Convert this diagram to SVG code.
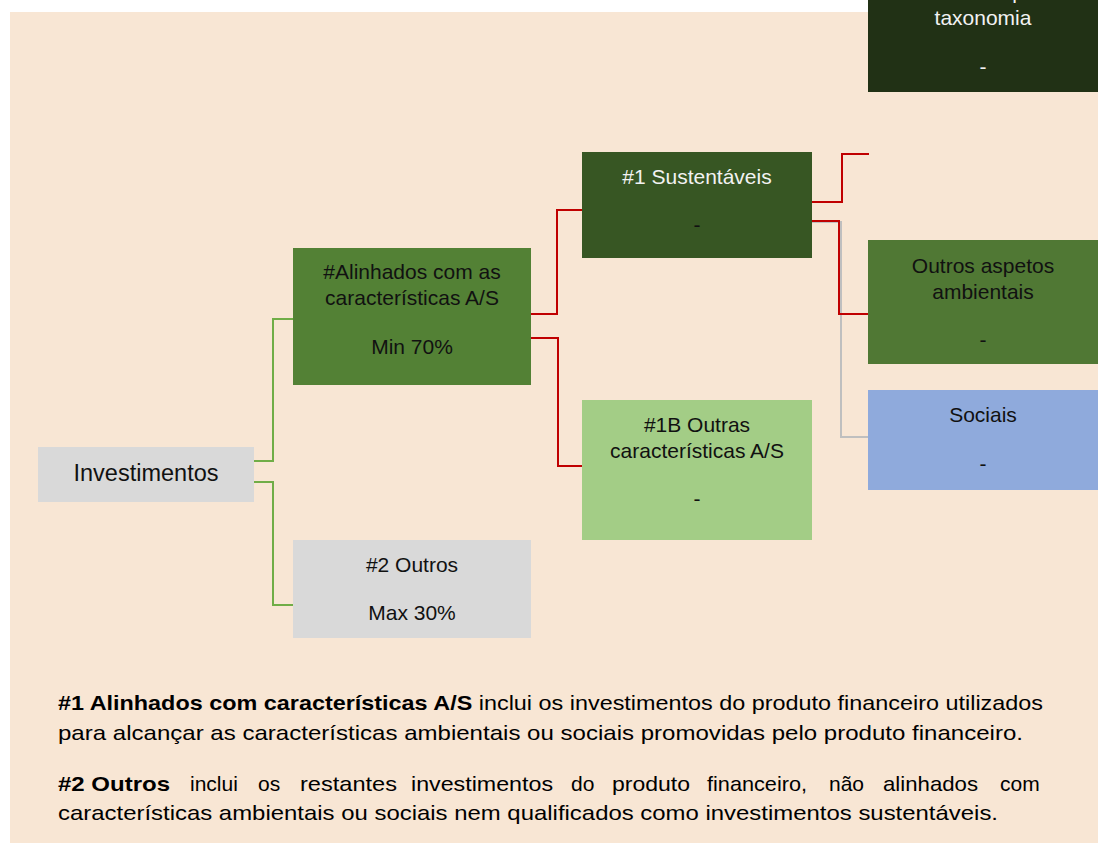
<svg xmlns="http://www.w3.org/2000/svg" width="1102" height="843" viewBox="0 0 1102 843">
<style>
  text { font-family: "Liberation Sans", Arial, sans-serif; }
  .n { font-size: 21px; text-anchor: middle; }
  .dk { fill: #111111; }
  .lt { fill: #f2f2f2; }
  .g { fill: none; stroke: #70ad47; stroke-width: 2; }
  .r { fill: none; stroke: #c00000; stroke-width: 2; }
  .gr { fill: none; stroke: #bfbfbf; stroke-width: 2; }
  .p { font-size: 21px; fill: #000; }
</style>
<rect x="10" y="12" width="1088" height="831" fill="#f8e6d4"/>

<g id="connectors">
  <polyline class="gr" points="812,222 841,222 841,437 868,437"/>
  <polyline class="g" points="254,461 273,461 273,319 293,319"/>
  <polyline class="g" points="254,482 273,482 273,605 293,605"/>
  <polyline class="r" points="531,314 557,314 557,210 582,210"/>
  <polyline class="r" points="531,338 558,338 558,466 582,466"/>
  <polyline class="r" points="812,202 842,202 842,154 869,154"/>
  <polyline class="r" points="810,221 839,221 839,314 869,314"/>
</g>

<g id="node-investimentos">
  <rect x="38" y="447" width="216" height="55" fill="#d9d9d9"/>
  <text class="dk" x="146" y="481" font-size="23.5" text-anchor="middle">Investimentos</text>
</g>

<g id="node-alinhados">
  <rect x="293" y="248" width="238" height="137" fill="#538135"/>
  <text class="n dk" x="412" y="279">#Alinhados com as</text>
  <text class="n dk" x="412" y="305">características A/S</text>
  <text class="n dk" x="412" y="354">Min 70%</text>
</g>

<g id="node-outros">
  <rect x="293" y="540" width="238" height="98" fill="#d9d9d9"/>
  <text class="n dk" x="412" y="572">#2 Outros</text>
  <text class="n dk" x="412" y="620">Max 30%</text>
</g>

<g id="node-sustentaveis">
  <rect x="582" y="152" width="230" height="106" fill="#375623"/>
  <text class="n lt" x="697" y="184">#1 Sustentáveis</text>
  <text class="n dk" x="697" y="232">-</text>
</g>

<g id="node-outras-caracteristicas">
  <rect x="582" y="400" width="230" height="140" fill="#a3cd86"/>
  <text class="n dk" x="697" y="432">#1B Outras</text>
  <text class="n dk" x="697" y="458">características A/S</text>
  <text class="n dk" x="697" y="506">-</text>
</g>

<g id="node-taxonomia">
  <rect x="868" y="0" width="230" height="92" fill="#213115"/>
  <text class="n lt" x="983" y="-1">Alinhados pela</text>
  <text class="n lt" x="983" y="25">taxonomia</text>
  <text class="n lt" x="983" y="74">-</text>
</g>

<g id="node-ambientais">
  <rect x="868" y="240" width="230" height="124" fill="#507834"/>
  <text class="n dk" x="983" y="273">Outros aspetos</text>
  <text class="n dk" x="983" y="299">ambientais</text>
  <text class="n dk" x="983" y="347">-</text>
</g>

<g id="node-sociais">
  <rect x="868" y="390" width="230" height="100" fill="#8faadc"/>
  <text class="n dk" x="983" y="422">Sociais</text>
  <text class="n dk" x="983" y="471">-</text>
</g>

<g id="legend">
  <text class="p" x="58" y="710" textLength="985" lengthAdjust="spacingAndGlyphs"><tspan font-weight="bold">#1 Alinhados com características A/S</tspan> inclui os investimentos do produto financeiro utilizados</text>
  <text class="p" x="58" y="740" textLength="965" lengthAdjust="spacingAndGlyphs">para alcançar as características ambientais ou sociais promovidas pelo produto financeiro.</text>
  <text class="p" x="58" y="791" font-weight="bold" textLength="112" lengthAdjust="spacingAndGlyphs">#2 Outros</text>
  <text class="p" x="190" y="791">inclui</text>
  <text class="p" x="258" y="791">os</text>
  <text class="p" x="300" y="791" textLength="97" lengthAdjust="spacingAndGlyphs">restantes</text>
  <text class="p" x="411" y="791" textLength="142" lengthAdjust="spacingAndGlyphs">investimentos</text>
  <text class="p" x="571" y="791">do</text>
  <text class="p" x="612" y="791" textLength="78" lengthAdjust="spacingAndGlyphs">produto</text>
  <text class="p" x="707" y="791" textLength="100" lengthAdjust="spacingAndGlyphs">financeiro,</text>
  <text class="p" x="829" y="791">não</text>
  <text class="p" x="883" y="791" textLength="95" lengthAdjust="spacingAndGlyphs">alinhados</text>
  <text class="p" x="1000" y="791">com</text>
  <text class="p" x="58" y="820" textLength="940" lengthAdjust="spacingAndGlyphs">características ambientais ou sociais nem qualificados como investimentos sustentáveis.</text>
</g>
</svg>
